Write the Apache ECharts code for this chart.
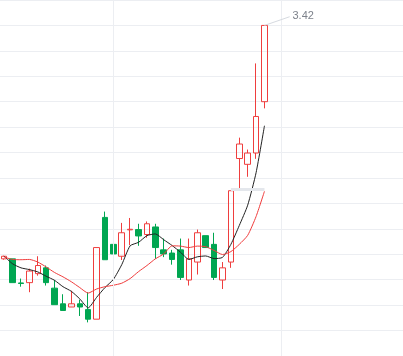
<!DOCTYPE html>
<html>
<head>
<meta charset="utf-8">
<script src="https://cdn.jsdelivr.net/npm/echarts@6/dist/echarts.min.js"></script>
<style>
html,body{margin:0;padding:0;background:#fff;}
#chart{width:403px;height:356px;}
</style>
</head>
<body>
<div id="chart"></div>
<script>
// ---- data ----
const openPrices  = [2.615, 2.615, 2.532, 2.533, 2.564, 2.584, 2.514, 2.460, 2.449, 2.460, 2.440, 2.407, 2.758, 2.665, 2.624, 2.715, 2.716, 2.699, 2.725, 2.646, 2.635, 2.646, 2.542, 2.604, 2.695, 2.665, 2.542, 2.604, 2.961, 2.941, 2.980, 3.157];
const closePrices = [2.624, 2.533, 2.530, 2.573, 2.592, 2.533, 2.457, 2.437, 2.460, 2.449, 2.407, 2.654, 2.612, 2.632, 2.705, 2.717, 2.694, 2.736, 2.654, 2.632, 2.613, 2.551, 2.615, 2.705, 2.654, 2.551, 2.584, 2.850, 3.011, 2.980, 3.106, 3.420];
const lowPrices   = [2.612, 2.533, 2.519, 2.500, 2.557, 2.523, 2.457, 2.437, 2.449, 2.418, 2.396, 2.407, 2.612, 2.624, 2.611, 2.662, 2.660, 2.688, 2.615, 2.621, 2.595, 2.542, 2.523, 2.561, 2.654, 2.542, 2.511, 2.584, 2.859, 2.898, 2.960, 3.134];
const highPrices  = [2.626, 2.615, 2.547, 2.581, 2.624, 2.592, 2.542, 2.493, 2.505, 2.474, 2.500, 2.654, 2.778, 2.727, 2.739, 2.756, 2.736, 2.744, 2.736, 2.685, 2.646, 2.685, 2.685, 2.716, 2.695, 2.705, 2.604, 2.850, 3.033, 2.992, 3.289, 3.420];
const ma5  = [2.624, 2.598, 2.584, 2.578, 2.570, 2.555, 2.541, 2.519, 2.503, 2.477, 2.446, 2.482, 2.516, 2.544, 2.595, 2.660, 2.672, 2.695, 2.701, 2.681, 2.661, 2.638, 2.613, 2.622, 2.625, 2.616, 2.620, 2.665, 2.730, 2.800, 2.912, 3.074];
const ma10 = [2.621, 2.613, 2.612, 2.613, 2.604, 2.587, 2.568, 2.553, 2.536, 2.516, 2.497, 2.511, 2.519, 2.524, 2.531, 2.547, 2.571, 2.592, 2.615, 2.632, 2.660, 2.659, 2.654, 2.659, 2.657, 2.644, 2.630, 2.640, 2.665, 2.696, 2.761, 2.848];
const verticalGridAt = [13, 33];   // category slots with a vertical grid line
const limitUpDay = 27;            // gray marker from this day's close

// ---- build ----
const slotCount = 48;
const categories = Array.from({length: slotCount}, (_, i) => 'K' + i);
const candles = openPrices.map((o, i) => [o, closePrices[i], lowPrices[i], highPrices[i]]);
const lastIdx = candles.length - 1;
const maxHigh = Math.max(...highPrices);
const maxIdx = highPrices.indexOf(maxHigh);
const yStep = 3.42 / 39;

const RED = '#ef3e3e', GREEN = '#00a651';

const chart = echarts.init(document.getElementById('chart'), null, {renderer: 'canvas'});
chart.setOption({
  animation: false,
  backgroundColor: '#ffffff',
  grid: {left: -5.52, right: -2.68, top: -4.7, bottom: -3.3, containLabel: false},
  xAxis: {
    type: 'category', data: categories, boundaryGap: true,
    axisLine: {show: false}, axisTick: {show: false}, axisLabel: {show: false},
    splitLine: {show: false}
  },
  yAxis: {
    type: 'value', scale: true,
    min: 26 * yStep, max: 40 * yStep, interval: yStep,
    axisLine: {show: false}, axisTick: {show: false}, axisLabel: {show: false},
    splitLine: {show: true, lineStyle: {color: '#eceef2', width: 1}}
  },
  series: [
    {
      type: 'candlestick',
      data: candles,
      barWidth: 6,
      itemStyle: {
        color: 'transparent', color0: GREEN,
        borderColor: RED, borderColor0: GREEN, borderWidth: 1
      },
      emphasis: {disabled: true},
      markLine: {
        silent: true, animation: false,
        symbol: ['none', 'none'],
        label: {show: false},
        emphasis: {disabled: true},
        data: [
          ...verticalGridAt.map(x => ({xAxis: x, lineStyle: {color: '#eceef2', width: 1, type: 'solid'}})),
          [
            {coord: [limitUpDay, closePrices[limitUpDay] + 0.004], lineStyle: {color: '#e4e7ec', width: 3, type: 'solid'}},
            {coord: [lastIdx, closePrices[limitUpDay] + 0.004]}
          ],
          [
            {coord: [maxIdx, maxHigh], lineStyle: {color: '#d6dae0', width: 1, type: 'solid'},
             label: {show: true, position: 'end', distance: 3, formatter: maxHigh.toFixed(2),
                     color: '#7d828b', fontSize: 11, fontFamily: 'Arial, Liberation Sans, sans-serif'}},
            {coord: [maxIdx + 3, maxHigh + 0.03]}
          ]
        ]
      }
    },
    {
      type: 'line', data: ma5, symbol: 'none', smooth: 0.2,
      lineStyle: {color: '#222222', width: 1}, emphasis: {disabled: true}, z: 3
    },
    {
      type: 'line', data: ma10, symbol: 'none', smooth: 0.2,
      lineStyle: {color: '#f03c3c', width: 1}, emphasis: {disabled: true}, z: 3
    }
  ]
});
</script>
</body>
</html>
